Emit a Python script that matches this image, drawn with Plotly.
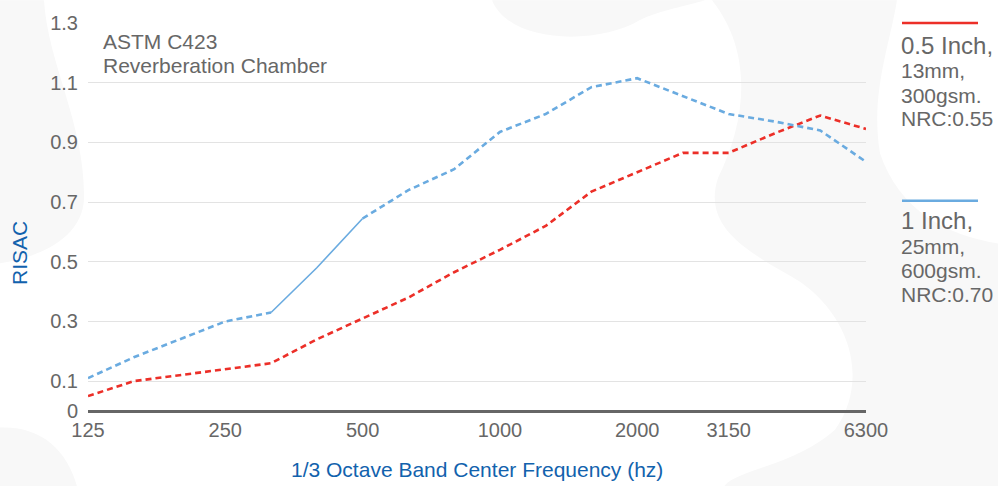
import plotly.graph_objects as go

freqs = ["125", "160", "200", "250", "315", "400", "500", "630", "800", "1000",
         "1250", "1600", "2000", "2500", "3150", "4000", "5000", "6300"]
half_inch = [0.05, 0.10, 0.12, 0.14, 0.16, 0.24, 0.31, 0.38, 0.465, 0.54,
             0.62, 0.735, 0.80, 0.865, 0.865, 0.93, 0.99, 0.945]
one_inch = [0.11, 0.18, 0.24, 0.30, 0.33, 0.48, 0.645, 0.74, 0.81, 0.935,
            0.995, 1.085, 1.115, 1.055, 0.995, 0.97, 0.94, 0.835]
tick_labels = ["125", "250", "500", "1000", "2000", "3150", "6300"]
y_ticks = [0, 0.1, 0.3, 0.5, 0.7, 0.9, 1.1, 1.3]

RED = "#ec2f28"
BLUE = "#6aabe0"
GRAY = "#676767"
TITLE_BLUE = "#1262ad"
FONT = "Liberation Sans, Arial, sans-serif"

W, H = 998, 486
L, R, T, B = 88, 866, 18, 411

def px(x):
    return (x - L) / (R - L)

def py(y):
    return (B - y) / (B - T)

idx = list(range(len(freqs)))

fig = go.Figure()
fig.add_trace(go.Scatter(x=idx, y=half_inch, mode="lines",
                         line=dict(color=RED, width=2.6, dash="6px,4px"),
                         showlegend=False, hoverinfo="skip"))
# blue: dashed to 315, solid 315-500, dashed after
i315 = freqs.index("315")
i500 = freqs.index("500")
fig.add_trace(go.Scatter(x=idx[:i315 + 1], y=one_inch[:i315 + 1], mode="lines",
                         line=dict(color=BLUE, width=2.6, dash="6px,4px"),
                         showlegend=False, hoverinfo="skip"))
fig.add_trace(go.Scatter(x=idx[i315:i500 + 1], y=one_inch[i315:i500 + 1], mode="lines",
                         line=dict(color=BLUE, width=1.6),
                         showlegend=False, hoverinfo="skip"))
fig.add_trace(go.Scatter(x=idx[i500:], y=one_inch[i500:], mode="lines",
                         line=dict(color=BLUE, width=2.6, dash="6px,4px"),
                         showlegend=False, hoverinfo="skip"))

# faint background blobs (pixel coordinates converted to paper)
def path(points):
    s = ""
    for cmd, pts in points:
        s += cmd + " " + " ".join(f"{px(a):.4f},{py(b):.4f}" for a, b in pts) + " "
    return s + "Z"

blob_color = "#f8f8f8"
blobs = [
    # top centre
    [("M", [(492, -5)]), ("C", [(510, 40), (600, 40), (640, 15)]),
     ("C", [(660, 5), (690, 0), (705, -5)])],
    # left
    [("M", [(-5, -5)]), ("L", [(44, -5)]), ("C", [(48, 60), (85, 120), (84, 195)]),
     ("C", [(83, 240), (30, 258), (-5, 262)])],
    # bottom left
    [("M", [(-5, 428)]), ("C", [(40, 424), (68, 450), (78, 491)]), ("L", [(-5, 491)])],
    # right
    [("M", [(712, -5)]), ("C", [(755, 50), (745, 120), (718, 175)]),
     ("C", [(700, 230), (760, 255), (800, 280)]),
     ("C", [(850, 315), (870, 380), (835, 430)]),
     ("C", [(790, 470), (730, 470), (722, 491)]),
     ("L", [(1003, 491)]), ("L", [(1003, 242)]),
     ("C", [(950, 235), (900, 210), (880, 150)]),
     ("C", [(870, 90), (890, 40), (897, -5)])],
]
shapes = []
for b in blobs:
    shapes.append(dict(type="path", path=path(b), xref="paper", yref="paper",
                       fillcolor=blob_color, line=dict(width=0), layer="below"))

# legend lines
for (ly, col) in [(18, RED), (198, BLUE)]:
    shapes.append(dict(type="line", xref="paper", yref="paper",
                       x0=px(902), x1=px(978), y0=py(ly), y1=py(ly),
                       line=dict(color=col, width=2.6)))

annotations = []
def text(t, x, y, size, color=GRAY, xanchor="left"):
    annotations.append(dict(text=t, x=px(x), y=py(y), xref="paper", yref="paper",
                            xanchor=xanchor, yanchor="middle", showarrow=False,
                            font=dict(family=FONT, size=size, color=color)))

text("ASTM C423", 101, 37, 21)
text("Reverberation Chamber", 101, 61, 21)

text("0.5 Inch,", 899, 41, 24)
text("13mm,", 899, 66, 21)
text("300gsm.", 899, 91, 21)
text("NRC:0.55", 899, 115, 21)
text("1 Inch,", 899, 218, 24)
text("25mm,", 899, 244, 21)
text("600gsm.", 899, 269, 21)
text("NRC:0.70", 899, 293, 21)

text("1/3 Octave Band Center Frequency (hz)", 477, 470, 21, TITLE_BLUE, "center")
annotations.append(dict(text="RISAC", x=px(19), y=py(251), xref="paper", yref="paper",
                        xanchor="center", yanchor="middle", showarrow=False, textangle=-90,
                        font=dict(family=FONT, size=21, color=TITLE_BLUE)))

fig.update_layout(
    width=W, height=H,
    margin=dict(l=L, r=W - R, t=T, b=H - B),
    paper_bgcolor="white", plot_bgcolor="rgba(0,0,0,0)",
    font=dict(family=FONT, color=GRAY, size=20),
    shapes=shapes, annotations=annotations,
    xaxis=dict(range=[0, len(freqs) - 1],
               tickmode="array",
               tickvals=[freqs.index(t) for t in tick_labels],
               ticktext=tick_labels,
               showgrid=False, zeroline=False,
               showline=False, ticks="", ticklabelstandoff=5,
               tickfont=dict(size=20, color=GRAY, family=FONT)),
    yaxis=dict(range=[0, 1.3], tickmode="array", tickvals=y_ticks,
               ticktext=[("0" if v == 0 else f"{v:.1f}") for v in y_ticks],
               showgrid=True, gridcolor="#e3e3e3", gridwidth=1.3,
               zeroline=True, zerolinecolor="#666666", zerolinewidth=2.5,
               ticks="", ticklabelstandoff=9,
               tickfont=dict(size=20, color=GRAY, family=FONT)),
)

fig.write_html("out.html", config={"displayModeBar": False},
               post_script="document.body.style.margin='0px';document.body.style.overflow='hidden';")
